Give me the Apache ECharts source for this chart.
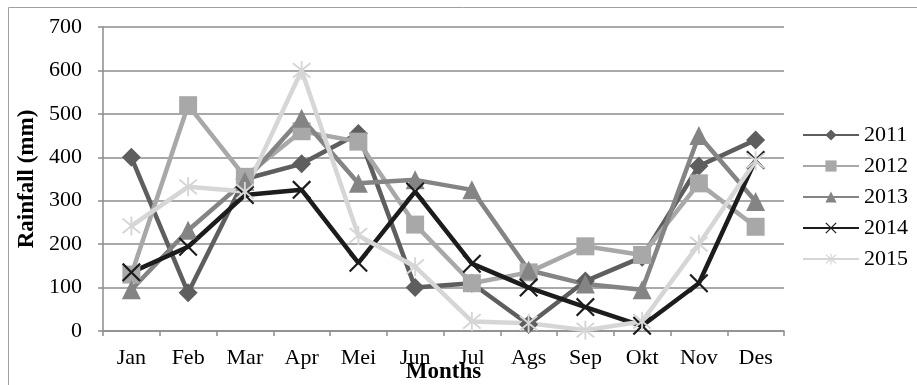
<!DOCTYPE html>
<html>
<head>
<meta charset="utf-8">
<script src="https://cdn.jsdelivr.net/npm/echarts@6/dist/echarts.min.js"></script>
<style>
  html, body { margin: 0; padding: 0; background: #fff; }
  #chart { width: 917px; height: 385px; }
</style>
</head>
<body>
<div id="chart"></div>
<script>
// Monthly rainfall (mm), 2011-2015
const months = ['Jan', 'Feb', 'Mar', 'Apr', 'Mei', 'Jun', 'Jul', 'Ags', 'Sep', 'Okt', 'Nov', 'Des'];
const yTicks = [0, 100, 200, 300, 400, 500, 600, 700];

const rain2011 = [400, 88, 350, 385, 455, 100, 110, 15, 115, 170, 380, 440];
const rain2012 = [130, 520, 355, 460, 436, 245, 110, 135, 195, 175, 340, 240];
const rain2013 = [95, 232, 345, 490, 340, 348, 325, 140, 108, 95, 450, 298];
const rain2014 = [135, 194, 313, 325, 157, 321, 155, 100, 55, 12, 110, 394];
const rain2015 = [242, 332, 321, 600, 220, 148, 22, 18, 2, 22, 200, 392];

const FONT = '"Liberation Serif", "Times New Roman", serif';

// thin-armed cross and six-armed star markers
const CROSS = 'path://M0,0.8 L0.8,0 L10,9.2 L9.2,10 Z M9.2,0 L10,0.8 L0.8,10 L0,9.2 Z';
const STAR = 'path://M0,0.8 L0.8,0 L10,9.2 L9.2,10 Z M9.2,0 L10,0.8 L0.8,10 L0,9.2 Z M4.5,-1 L5.5,-1 L5.5,11 L4.5,11 Z';

function line(name, data, color, symbol, size) {
  return {
    name: name,
    type: 'line',
    data: data,
    symbol: symbol,
    symbolSize: size,
    showSymbol: true,
    lineStyle: { color: color, width: 4.5 },
    itemStyle: { color: color, borderWidth: 0 },
    emphasis: { disabled: true },
    animation: false
  };
}

const chart = echarts.init(document.getElementById('chart'));
chart.setOption({
  backgroundColor: '#ffffff',
  textStyle: { fontFamily: FONT },
  graphic: [{
    type: 'rect',
    shape: { x: 8.5, y: 7.5, width: 1000, height: 1000 },
    style: { fill: 'none', stroke: '#a0a0a0', lineWidth: 1 },
    silent: true
  }],
  grid: { left: 103, right: 133, top: 27, bottom: 54, containLabel: false, outerBoundsMode: 'none' },
  legend: {
    orient: 'vertical',
    left: 797,
    top: 119,
    itemWidth: 56,
    itemHeight: 14,
    itemGap: 9,
    textStyle: { fontFamily: FONT, fontSize: 22, color: '#000' },
    data: ['2011', '2012', '2013', '2014', '2015']
  },
  xAxis: {
    type: 'category',
    data: months,
    boundaryGap: true,
    name: 'Months',
    nameLocation: 'middle',
    nameGap: 30,
    nameMoveOverlap: false,
    nameTextStyle: { fontFamily: FONT, fontSize: 23, fontWeight: 'bold', color: '#000' },
    axisLine: { lineStyle: { color: '#8c8c8c', width: 1.5 } },
    axisTick: { show: true, inside: false, length: 5, alignWithLabel: false, lineStyle: { color: '#8c8c8c', width: 1.5 } },
    axisLabel: { fontFamily: FONT, fontSize: 22, color: '#000', margin: 16, interval: 0 },
    splitLine: { show: false }
  },
  yAxis: {
    type: 'value',
    min: yTicks[0],
    max: yTicks[yTicks.length - 1],
    interval: 100,
    name: 'Rainfall (mm)',
    nameLocation: 'middle',
    nameGap: 64,
    nameMoveOverlap: false,
    nameRotate: 90,
    nameTextStyle: { fontFamily: FONT, fontSize: 23, fontWeight: 'bold', color: '#000' },
    axisLine: { show: true, lineStyle: { color: '#8c8c8c', width: 1.5 } },
    axisTick: { show: true, inside: false, length: 5, lineStyle: { color: '#8c8c8c', width: 1.5 } },
    axisLabel: { fontFamily: FONT, fontSize: 22, color: '#000', margin: 21 },
    splitLine: { show: true, lineStyle: { color: '#8c8c8c', width: 1.5 } }
  },
  series: [
    line('2011', rain2011, '#5e5e5e', 'diamond', 19),
    line('2012', rain2012, '#a8a8a8', 'rect', 18),
    line('2013', rain2013, '#848484', 'triangle', 19),
    line('2014', rain2014, '#1c1c1c', CROSS, 19),
    line('2015', rain2015, '#d6d6d6', STAR, 19)
  ]
});
</script>
</body>
</html>
